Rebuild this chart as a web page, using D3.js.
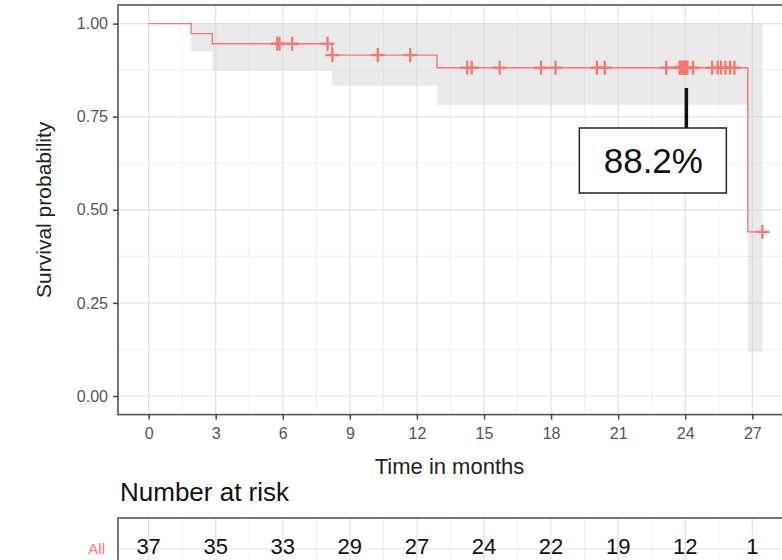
<!DOCTYPE html>
<html>
<head>
<meta charset="utf-8">
<script src="https://cdn.jsdelivr.net/npm/d3@7"></script>
<style>
  body { margin: 0; background: #fff; }
  text { font-family: "Liberation Sans", Arial, sans-serif; }
</style>
</head>
<body>
<div id="graph"></div>
<script>
// KM steps (time the step starts, survival after it, lower CI)
var stepTimes = [0, 1.9, 2.85, 8.2, 12.9, 26.8];
var survVals  = [1.0, 0.973, 0.946, 0.9155, 0.8816, 0.4408];
var lowerCI   = [1.0, 0.925, 0.874, 0.833, 0.782, 0.119];
var upperCI   = [1.0, 1.0, 1.0, 1.0, 1.0, 1.0];
var endTime = 27.45;

// censored times
var censorTimes = [5.75, 5.85, 6.42, 8.0, 8.22, 10.25, 11.7, 14.25, 14.45, 15.7, 17.55,
    18.2, 20.05, 20.4, 23.15, 23.75, 23.8, 23.85, 23.9, 23.95, 23.98,
    24.02, 24.05, 24.1, 24.35, 25.2, 25.45, 25.6, 25.8, 26.0, 26.2, 27.45];

// risk table
var riskTimes = [0, 3, 6, 9, 12, 15, 18, 21, 24, 27];
var riskCounts = [37, 35, 33, 29, 27, 24, 22, 19, 12, 1];

var yTicks = [0, 0.25, 0.5, 0.75, 1];
var labelTime = 24.05, labelText = "88.2%";

var width = 782, height = 560;
var panel = {left: 118, top: 5, right: 793, bottom: 414.6};
var red = "#F8766D";

var svg = d3.select("#graph").append("svg")
    .attr("width", width)
    .attr("height", height);

var x = d3.scaleLinear().domain([-1.37, 28.82]).range([panel.left, panel.right]);
var y = d3.scaleLinear().domain([-0.05, 1.05]).range([panel.bottom, panel.top]);

function survAt(t) {
    var i = d3.bisectRight(stepTimes, t) - 1;
    return survVals[Math.max(i, 0)];
}

// grid
var majorX = d3.range(0, 28.5, 3);
var minorX = d3.range(1.5, 28.82, 3);
var minorY = [0.125, 0.375, 0.625, 0.875];

var grid = svg.append("g");
grid.selectAll(".mnx").data(minorX).enter().append("line")
    .attr("x1", d => x(d)).attr("x2", d => x(d))
    .attr("y1", panel.top).attr("y2", panel.bottom)
    .style("stroke", "#f0f0f0").style("stroke-width", 1);
grid.selectAll(".mny").data(minorY).enter().append("line")
    .attr("x1", panel.left).attr("x2", panel.right)
    .attr("y1", d => y(d)).attr("y2", d => y(d))
    .style("stroke", "#f0f0f0").style("stroke-width", 1);
grid.selectAll(".mjx").data(majorX).enter().append("line")
    .attr("x1", d => x(d)).attr("x2", d => x(d))
    .attr("y1", panel.top).attr("y2", panel.bottom)
    .style("stroke", "#e3e3e3").style("stroke-width", 1.2);
grid.selectAll(".mjy").data(yTicks).enter().append("line")
    .attr("x1", panel.left).attr("x2", panel.right)
    .attr("y1", d => y(d)).attr("y2", d => y(d))
    .style("stroke", "#e3e3e3").style("stroke-width", 1.2);

// confidence band
var steps = stepTimes.map(function(t, i) {
    return {t: t, s: survVals[i], lo: lowerCI[i], hi: upperCI[i]};
});
steps.push({t: endTime, s: survVals[survVals.length - 1],
    lo: lowerCI[lowerCI.length - 1], hi: upperCI[upperCI.length - 1]});

svg.append("path")
    .attr("d", d3.area()
        .x(d => x(d.t))
        .y0(d => y(d.lo))
        .y1(d => y(d.hi))
        .curve(d3.curveStepAfter)(steps))
    .style("fill", "#d6d6d6")
    .style("opacity", 0.5);

// survival curve
svg.append("path")
    .attr("d", d3.line()
        .x(d => x(d.t))
        .y(d => y(d.s))
        .curve(d3.curveStepAfter)(steps))
    .style("fill", "none")
    .style("stroke", red)
    .style("stroke-width", 1.4);

// censor marks
var cs = 7;
var marks = svg.append("g").selectAll("g").data(censorTimes).enter().append("g")
    .attr("transform", d => "translate(" + x(d) + "," + y(survAt(d)) + ")");
marks.append("line").attr("x1", -cs).attr("x2", cs)
    .style("stroke", red).style("stroke-width", 2.3);
marks.append("line").attr("y1", -cs).attr("y2", cs)
    .style("stroke", red).style("stroke-width", 2.3);

// panel border
svg.append("rect")
    .attr("x", panel.left).attr("y", panel.top)
    .attr("width", panel.right - panel.left)
    .attr("height", panel.bottom - panel.top)
    .style("fill", "none")
    .style("stroke", "#555").style("stroke-width", 1.6);

// axes
var yAxis = svg.append("g")
    .attr("transform", "translate(" + panel.left + ",0)")
    .call(d3.axisLeft(y).tickValues(yTicks).tickFormat(d3.format(".2f")).tickSize(5).tickPadding(5));
var xAxis = svg.append("g")
    .attr("transform", "translate(0," + panel.bottom + ")")
    .call(d3.axisBottom(x).tickValues(majorX).tickFormat(d3.format("d")).tickSize(5).tickPadding(8));
[xAxis, yAxis].forEach(function(a) {
    a.select(".domain").remove();
    a.selectAll("line").style("stroke", "#444").style("stroke-width", 1.5);
    a.selectAll("text")
        .style("font-family", "'Liberation Sans', Arial, sans-serif")
        .style("font-size", "16px")
        .style("fill", "#555");
});

svg.append("text")
    .attr("transform", "translate(51," + ((panel.top + panel.bottom) / 2) + ") rotate(-90)")
    .attr("text-anchor", "middle")
    .style("font-size", "21px")
    .style("fill", "#222")
    .text("Survival probability");

svg.append("text")
    .attr("x", (panel.left + panel.right) / 2 - 6)
    .attr("y", 474)
    .attr("text-anchor", "middle")
    .style("font-size", "22px")
    .style("fill", "#222")
    .text("Time in months");

// annotation
var lx = x(labelTime);
svg.append("line")
    .attr("x1", lx).attr("x2", lx)
    .attr("y1", 88).attr("y2", 128)
    .style("stroke", "#111").style("stroke-width", 3.5);
svg.append("rect")
    .attr("x", lx - 107).attr("y", 128)
    .attr("width", 147).attr("height", 65)
    .style("fill", "#fff")
    .style("stroke", "#222").style("stroke-width", 1.5);
svg.append("text")
    .attr("x", lx - 33).attr("y", 173)
    .attr("text-anchor", "middle")
    .style("font-size", "35px")
    .style("fill", "#111")
    .text(labelText);

// risk table
svg.append("text")
    .attr("x", 120).attr("y", 501)
    .style("font-size", "26px")
    .style("fill", "#111")
    .text("Number at risk");

var tTop = 518, tBottom = 620;
var tab = svg.append("g");
tab.selectAll(".tmn").data(minorX).enter().append("line")
    .attr("x1", d => x(d)).attr("x2", d => x(d))
    .attr("y1", tTop).attr("y2", tBottom)
    .style("stroke", "#f0f0f0").style("stroke-width", 1);
tab.selectAll(".tmj").data(majorX).enter().append("line")
    .attr("x1", d => x(d)).attr("x2", d => x(d))
    .attr("y1", tTop).attr("y2", tBottom)
    .style("stroke", "#e3e3e3").style("stroke-width", 1.2);
tab.append("line")
    .attr("x1", panel.left).attr("x2", panel.right)
    .attr("y1", 549).attr("y2", 549)
    .style("stroke", "#e3e3e3").style("stroke-width", 1.2);
tab.append("rect")
    .attr("x", panel.left).attr("y", tTop)
    .attr("width", panel.right - panel.left).attr("height", tBottom - tTop)
    .style("fill", "none")
    .style("stroke", "#555").style("stroke-width", 1.6);

tab.selectAll(".cnt").data(riskTimes).enter().append("text")
    .attr("x", d => x(d))
    .attr("y", 554)
    .attr("text-anchor", "middle")
    .style("font-size", "22px")
    .style("fill", "#111")
    .text((d, i) => riskCounts[i]);

svg.append("text")
    .attr("x", 105).attr("y", 554)
    .attr("text-anchor", "end")
    .style("font-size", "15px")
    .style("fill", red)
    .text("All");
</script>
</body>
</html>
